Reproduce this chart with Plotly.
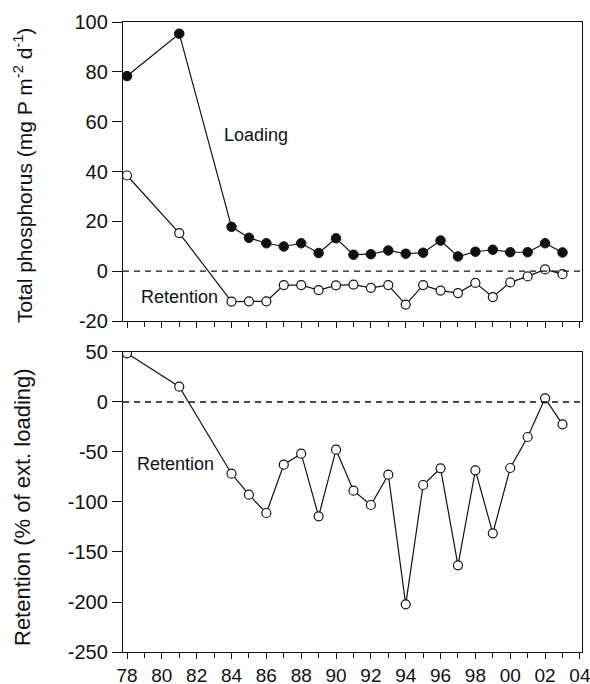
import plotly.graph_objects as go
from plotly.subplots import make_subplots

# Sampling years
years = [1978, 1981, 1984, 1985, 1986, 1987, 1988, 1989, 1990, 1991, 1992,
         1993, 1994, 1995, 1996, 1997, 1998, 1999, 2000, 2001, 2002, 2003]

# External total phosphorus loading (mg P m-2 d-1)
loading = [78.3, 95.3, 17.8, 13.4, 11.2, 9.9, 11.2, 7.3, 13.2, 6.6, 6.8,
           8.3, 7.0, 7.4, 12.3, 5.9, 7.8, 8.6, 7.6, 7.6, 11.2, 7.5]

# Phosphorus retention (mg P m-2 d-1)
retention = [38.4, 15.3, -12.2, -12.1, -12.1, -5.6, -5.6, -7.6, -5.7, -5.4, -6.7,
             -5.6, -13.4, -5.6, -7.8, -8.8, -4.7, -10.4, -4.5, -2.1, 0.7, -1.2]

# Retention as percentage of external loading
retention_pct = [48.7, 15.3, -71.7, -92.7, -111, -62.7, -51.7, -114.3, -47.7, -88.7, -103,
                 -72.7, -202.3, -83, -66.3, -163.3, -68.3, -131.3, -66, -35, 3.7, -22.3]

# Axis tick values
top_yticks = [-20, 0, 20, 40, 60, 80, 100]
bot_yticks = [-250, -200, -150, -100, -50, 0, 50]

font_family = "Liberation Sans, Arial, Helvetica, sans-serif"
ink = "#111111"

W, H = 590, 684
ML, MR, MT, MB = 123, 8, 22, 32
top_domain = [0.5254, 1.0]
bot_domain = [0.0, 0.4762]

fig = make_subplots(rows=2, cols=1, shared_xaxes=False, vertical_spacing=0.05)

fig.add_trace(go.Scatter(
    x=years, y=loading, mode="lines+markers",
    line=dict(color=ink, width=1.2),
    marker=dict(symbol="circle", size=9.5, color=ink, line=dict(color=ink, width=1)),
    showlegend=False), row=1, col=1)

fig.add_trace(go.Scatter(
    x=years, y=retention, mode="lines+markers",
    line=dict(color=ink, width=1.2),
    marker=dict(symbol="circle", size=9, color="white", line=dict(color=ink, width=1.2)),
    showlegend=False), row=1, col=1)

fig.add_trace(go.Scatter(
    x=years, y=retention_pct, mode="lines+markers",
    line=dict(color=ink, width=1.2),
    marker=dict(symbol="circle", size=9, color="white", line=dict(color=ink, width=1.2)),
    showlegend=False), row=2, col=1)

# Year ticks: labelled every two years, unlabelled in between
major_years = list(range(1978, 2005, 2))
minor_years = list(range(1979, 2005, 2))
major_text = [f"{y % 100:02d}" for y in major_years]

xcommon = dict(
    range=[1977.77, 2004.12],
    tickmode="array", tickvals=major_years,
    ticks="outside", ticklen=6, tickwidth=1.2, tickcolor=ink,
    minor=dict(tickmode="array", tickvals=minor_years, ticks="outside",
               ticklen=5, tickwidth=1.2, tickcolor=ink),
    showline=True, linecolor=ink, linewidth=1.3, mirror=True,
    showgrid=False, zeroline=False,
    tickfont=dict(family=font_family, size=19, color=ink),
    ticklabeloverflow="allow",
    automargin=False,
)

fig.update_xaxes(**xcommon, showticklabels=False, row=1, col=1)
fig.update_xaxes(**xcommon, ticktext=major_text, row=2, col=1)

ycommon = dict(
    ticks="outside", ticklen=10, tickwidth=1.2, tickcolor=ink,
    showline=True, linecolor=ink, linewidth=1.3, mirror=True,
    showgrid=False, zeroline=False,
    tickfont=dict(family=font_family, size=20, color=ink),
    tickmode="array",
    automargin=False,
)

fig.update_yaxes(**ycommon, range=[-20, 100], tickvals=top_yticks,
                 ticktext=[str(v) for v in top_yticks], row=1, col=1)
fig.update_yaxes(**ycommon, range=[-250, 50], tickvals=bot_yticks,
                 ticktext=[str(v) for v in bot_yticks], row=2, col=1)

fig.update_layout(
    xaxis=dict(domain=[0, 1]),
    yaxis=dict(domain=top_domain),
    yaxis2=dict(domain=bot_domain),
)

# Zero reference lines
for xref, yref in (("x domain", "y"), ("x2 domain", "y2")):
    fig.add_shape(type="line", xref=xref, yref=yref, x0=0, x1=1, y0=0, y1=0,
                  line=dict(color=ink, width=1.3, dash="6px,5px"))

# Axis titles placed as rotated text at a fixed distance from the left edge
plot_w = W - ML - MR
plot_h = H - MT - MB
title_x = -(ML - 22.5) / plot_w
fig.add_annotation(x=title_x, y=(H - MB - 175.5) / plot_h, xref="paper", yref="paper",
                   text="Total phosphorus (mg P m<sup>-2</sup> d<sup>-1</sup>)",
                   textangle=-90, showarrow=False,
                   font=dict(family=font_family, size=21, color=ink),
                   xanchor="center", yanchor="middle")
fig.add_annotation(x=title_x, y=(H - MB - 507.5) / plot_h, xref="paper", yref="paper",
                   text="Retention (% of ext. loading)",
                   textangle=-90, showarrow=False,
                   font=dict(family=font_family, size=22, color=ink),
                   xanchor="center", yanchor="middle")

label_font = dict(family=font_family, size=18, color=ink)
fig.add_annotation(x=1985.4, y=54.5, xref="x", yref="y", text="Loading",
                   showarrow=False, font=label_font)
fig.add_annotation(x=1981.0, y=-10.3, xref="x", yref="y", text="Retention",
                   showarrow=False, font=label_font)
fig.add_annotation(x=1980.8, y=-62, xref="x2", yref="y2", text="Retention",
                   showarrow=False, font=label_font)

fig.update_layout(
    width=W, height=H,
    margin=dict(l=ML, r=MR, t=MT, b=MB, autoexpand=False),
    plot_bgcolor="white", paper_bgcolor="white",
    font=dict(family=font_family, color=ink),
)

fig.write_html("out.html")
